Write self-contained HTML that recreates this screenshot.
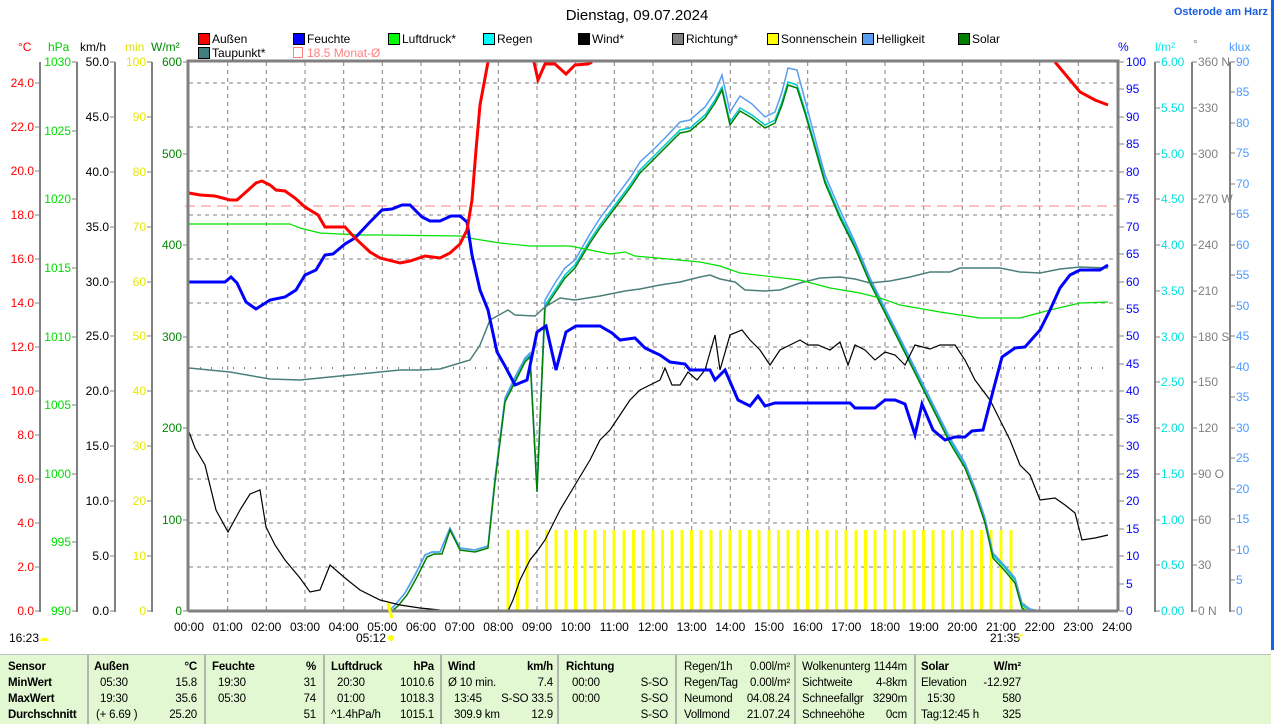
<!DOCTYPE html>
<html><head><meta charset="utf-8"><style>
html,body{margin:0;padding:0;background:#fff;}
svg{display:block;font-family:"Liberation Sans",sans-serif;}
</style></head><body>
<svg width="1274" height="724" viewBox="0 0 1274 724" xmlns="http://www.w3.org/2000/svg">
<rect width="1274" height="724" fill="#fff"/>
<rect x="1271" y="0" width="3" height="650" fill="#1560e8"/>
<text x="637" y="20" font-size="15" text-anchor="middle" fill="#000">Dienstag, 09.07.2024</text>
<text x="1268" y="15" font-size="11" text-anchor="end" fill="#1a5ee0" font-weight="bold">Osterode am Harz</text>

<g font-size="12" fill="#000">
<rect x="198.5" y="33.5" width="11" height="11" fill="#f00" stroke="#000"/><text x="212" y="43">Außen</text>
<rect x="293.5" y="33.5" width="11" height="11" fill="#00f" stroke="#000"/><text x="307" y="43">Feuchte</text>
<rect x="388.5" y="33.5" width="11" height="11" fill="#0f0" stroke="#000"/><text x="402" y="43">Luftdruck*</text>
<rect x="483.5" y="33.5" width="11" height="11" fill="#0ff" stroke="#000"/><text x="497" y="43">Regen</text>
<rect x="578.5" y="33.5" width="11" height="11" fill="#000" stroke="#000"/><text x="592" y="43">Wind*</text>
<rect x="672.5" y="33.5" width="11" height="11" fill="#808080" stroke="#000"/><text x="686" y="43">Richtung*</text>
<rect x="767.5" y="33.5" width="11" height="11" fill="#ff0" stroke="#000"/><text x="781" y="43">Sonnenschein</text>
<rect x="862.5" y="33.5" width="11" height="11" fill="#5a9cf0" stroke="#000"/><text x="876" y="43">Helligkeit</text>
<rect x="958.5" y="33.5" width="11" height="11" fill="#008000" stroke="#000"/><text x="972" y="43">Solar</text>
<rect x="198.5" y="47.5" width="11" height="11" fill="#408080" stroke="#000"/><text x="212" y="57">Taupunkt*</text>
<rect x="293.5" y="47.5" width="9" height="10" fill="none" stroke="#ff8080"/><text x="307" y="57" fill="#ff8080">18.5 Monat-Ø</text>
</g>

<g font-size="12">
<text x="18" y="51" fill="#f00">°C</text>
<text x="48" y="51" fill="#0c0">hPa</text>
<text x="80" y="51" fill="#000">km/h</text>
<text x="125" y="51" fill="#e0e000">min</text>
<text x="151" y="51" fill="#080">W/m²</text>
<text x="1118" y="51" fill="#00f">%</text>
<text x="1155" y="51" fill="#0ee">l/m²</text>
<text x="1193" y="48" fill="#808080">°</text>
<text x="1229" y="51" fill="#4a9aff">klux</text>
</g>

<g stroke="#808080" stroke-width="2">
<line x1="40" y1="62" x2="40" y2="612"/><line x1="77" y1="62" x2="77" y2="612"/>
<line x1="115" y1="62" x2="115" y2="612"/><line x1="152" y1="62" x2="152" y2="612"/>
<line x1="1155" y1="62" x2="1155" y2="612"/><line x1="1192" y1="62" x2="1192" y2="612"/>
<line x1="1230" y1="62" x2="1230" y2="612"/>
</g>
<g stroke="#808080" stroke-width="1">
<path d="M35 611H40M35 567H40M35 523H40M35 479H40M35 435H40M35 391H40M35 347H40M35 303H40M35 259H40M35 215H40M35 171H40M35 127H40M35 83H40"/>
<path d="M72 611H77M72 542H77M72 474H77M72 405H77M72 337H77M72 268H77M72 199H77M72 131H77M72 62H77"/>
<path d="M110 611H115M110 556H115M110 501H115M110 446H115M110 391H115M110 336H115M110 282H115M110 227H115M110 172H115M110 117H115M110 62H115"/>
<path d="M147 611H152M147 556H152M147 501H152M147 446H152M147 391H152M147 336H152M147 282H152M147 227H152M147 172H152M147 117H152M147 62H152"/>
<path d="M183 611H188M183 520H188M183 428H188M183 337H188M183 245H188M183 154H188M183 62H188"/>
<path d="M1119 611H1124M1119 584H1124M1119 556H1124M1119 529H1124M1119 501H1124M1119 474H1124M1119 446H1124M1119 419H1124M1119 391H1124M1119 364H1124M1119 336H1124M1119 309H1124M1119 282H1124M1119 254H1124M1119 227H1124M1119 199H1124M1119 172H1124M1119 144H1124M1119 117H1124M1119 89H1124M1119 62H1124"/>
<path d="M1155 611H1160M1155 565H1160M1155 520H1160M1155 474H1160M1155 428H1160M1155 382H1160M1155 337H1160M1155 291H1160M1155 245H1160M1155 199H1160M1155 154H1160M1155 108H1160M1155 62H1160"/>
<path d="M1192 611H1197M1192 565H1197M1192 520H1197M1192 474H1197M1192 428H1197M1192 382H1197M1192 337H1197M1192 291H1197M1192 245H1197M1192 199H1197M1192 154H1197M1192 108H1197M1192 62H1197"/>
<path d="M1230 611H1235M1230 580H1235M1230 550H1235M1230 519H1235M1230 489H1235M1230 458H1235M1230 428H1235M1230 397H1235M1230 367H1235M1230 336H1235M1230 306H1235M1230 275H1235M1230 245H1235M1230 214H1235M1230 184H1235M1230 153H1235M1230 123H1235M1230 92H1235M1230 62H1235"/>
</g>

<g font-size="12" text-anchor="end" fill="#f00">
<text x="34" y="615">0.0</text><text x="34" y="571">2.0</text><text x="34" y="527">4.0</text><text x="34" y="483">6.0</text><text x="34" y="439">8.0</text><text x="34" y="395">10.0</text><text x="34" y="351">12.0</text><text x="34" y="307">14.0</text><text x="34" y="263">16.0</text><text x="34" y="219">18.0</text><text x="34" y="175">20.0</text><text x="34" y="131">22.0</text><text x="34" y="87">24.0</text>
</g>
<g font-size="12" text-anchor="end" fill="#0d0">
<text x="71" y="615">990</text><text x="71" y="546">995</text><text x="71" y="478">1000</text><text x="71" y="409">1005</text><text x="71" y="341">1010</text><text x="71" y="272">1015</text><text x="71" y="203">1020</text><text x="71" y="135">1025</text><text x="71" y="66">1030</text>
</g>
<g font-size="12" text-anchor="end" fill="#000">
<text x="109" y="615">0.0</text><text x="109" y="560">5.0</text><text x="109" y="505">10.0</text><text x="109" y="450">15.0</text><text x="109" y="395">20.0</text><text x="109" y="340">25.0</text><text x="109" y="286">30.0</text><text x="109" y="231">35.0</text><text x="109" y="176">40.0</text><text x="109" y="121">45.0</text><text x="109" y="66">50.0</text>
</g>
<g font-size="12" text-anchor="end" fill="#e8e800">
<text x="146" y="615">0</text><text x="146" y="560">10</text><text x="146" y="505">20</text><text x="146" y="450">30</text><text x="146" y="395">40</text><text x="146" y="340">50</text><text x="146" y="286">60</text><text x="146" y="231">70</text><text x="146" y="176">80</text><text x="146" y="121">90</text><text x="146" y="66">100</text>
</g>
<g font-size="12" text-anchor="end" fill="#080">
<text x="182" y="615">0</text><text x="182" y="524">100</text><text x="182" y="432">200</text><text x="182" y="341">300</text><text x="182" y="249">400</text><text x="182" y="158">500</text><text x="182" y="66">600</text>
</g>
<g font-size="12" fill="#00f">
<text x="1126" y="615">0</text><text x="1126" y="588">5</text><text x="1126" y="560">10</text><text x="1126" y="533">15</text><text x="1126" y="505">20</text><text x="1126" y="478">25</text><text x="1126" y="450">30</text><text x="1126" y="423">35</text><text x="1126" y="395">40</text><text x="1126" y="368">45</text><text x="1126" y="340">50</text><text x="1126" y="313">55</text><text x="1126" y="286">60</text><text x="1126" y="258">65</text><text x="1126" y="231">70</text><text x="1126" y="203">75</text><text x="1126" y="176">80</text><text x="1126" y="148">85</text><text x="1126" y="121">90</text><text x="1126" y="93">95</text><text x="1126" y="66">100</text>
</g>
<g font-size="12" fill="#00e0e0">
<text x="1161" y="615">0.00</text><text x="1161" y="569">0.50</text><text x="1161" y="524">1.00</text><text x="1161" y="478">1.50</text><text x="1161" y="432">2.00</text><text x="1161" y="386">2.50</text><text x="1161" y="341">3.00</text><text x="1161" y="295">3.50</text><text x="1161" y="249">4.00</text><text x="1161" y="203">4.50</text><text x="1161" y="158">5.00</text><text x="1161" y="112">5.50</text><text x="1161" y="66">6.00</text>
</g>
<g font-size="12" fill="#808080">
<text x="1198" y="615">0 N</text><text x="1198" y="569">30</text><text x="1198" y="524">60</text><text x="1198" y="478">90 O</text><text x="1198" y="432">120</text><text x="1198" y="386">150</text><text x="1198" y="341">180 S</text><text x="1198" y="295">210</text><text x="1198" y="249">240</text><text x="1198" y="203">270 W</text><text x="1198" y="158">300</text><text x="1198" y="112">330</text><text x="1198" y="66">360 N</text>
</g>
<g font-size="12" fill="#4a9aff">
<text x="1236" y="615">0</text><text x="1236" y="584">5</text><text x="1236" y="554">10</text><text x="1236" y="523">15</text><text x="1236" y="493">20</text><text x="1236" y="462">25</text><text x="1236" y="432">30</text><text x="1236" y="401">35</text><text x="1236" y="371">40</text><text x="1236" y="340">45</text><text x="1236" y="310">50</text><text x="1236" y="279">55</text><text x="1236" y="249">60</text><text x="1236" y="218">65</text><text x="1236" y="188">70</text><text x="1236" y="157">75</text><text x="1236" y="127">80</text><text x="1236" y="96">85</text><text x="1236" y="66">90</text>
</g>

<g stroke="#808080" stroke-width="1" stroke-dasharray="4,4">
<path d="M227.7 62V611M266.3 62V611M305 62V611M343.7 62V611M382.3 62V611M421 62V611M459.7 62V611M498.3 62V611M537 62V611M575.7 62V611M614.3 62V611M653 62V611M691.7 62V611M730.3 62V611M769 62V611M807.7 62V611M846.3 62V611M885 62V611M923.7 62V611M962.3 62V611M1001 62V611M1039.7 62V611M1078.3 62V611"/>
<path d="M189 567H1117M189 523H1117M189 479H1117M189 435H1117M189 391H1117M189 347H1117M189 303H1117M189 259H1117M189 215H1117M189 171H1117M189 127H1117M189 83H1117"/>
</g>
<line x1="185" y1="206" x2="1117" y2="206" stroke="#ff8080" stroke-width="1" stroke-dasharray="10,6"/>
<line x1="189" y1="368" x2="1108" y2="368" stroke="#808080" stroke-width="2" stroke-dasharray="1,10"/>

<g stroke="#ff0" stroke-width="3">
<path d="M389 603V611M508 530V611M517.5 530V611M527 530V611M546.5 530V611M556 530V611M566 530V611M575.5 530V611M585 530V611M595 530V611M604.5 530V611M614 530V611M624 530V611M633.5 530V611M643 530V611M653 530V611M662.5 530V611M672 530V611M682 530V611M691.5 530V611M701 530V611M711 530V611M720.5 530V611M730 530V611M740 530V611M749.5 530V611M759 530V611M769 530V611M778.5 530V611M788 530V611M798 530V611M807.5 530V611M817 530V611M827 530V611M836.5 530V611M846 530V611M856 530V611M865.5 530V611M875 530V611M885 530V611M894.5 530V611M904 530V611M914 530V611M923.5 530V611M933 530V611M943 530V611M952.5 530V611M962 530V611M972 530V611M981.5 530V611M991 530V611M1001 530V611M1011 530V611M1024 603V611"/>
</g>

<polyline fill="none" stroke="#00c8c8" stroke-width="1.5" points="389,611 395,605 405,593 415,575 425,555 432,552 440,552 450,528 460,548 475,550 488,546 495,480 505,400 515,380 525,360 530,355 537,490 540,420 545,305 555,290 565,275 575,265 590,240 600,225 615,205 630,185 640,170 655,155 665,145 680,130 690,128 705,115 715,100 722,87 730,122 740,108 752,115 765,125 775,120 782,102 788,82 797,85 805,110 815,145 825,180 840,215 855,245 870,280 890,320 910,360 930,400 950,440 965,465 975,490 985,520 993,555 1005,568 1015,580 1022,605 1030,611"/>
<polyline fill="none" stroke="#5a9cf0" stroke-width="1.5" points="389,611 395,605 405,593 415,575 425,555 432,552 440,552 450,528 460,548 475,550 488,546 495,478 505,398 515,377 525,358 530,353 537,488 540,418 545,300 555,283 565,268 575,260 590,234 600,218 615,198 630,178 640,162 655,148 665,138 680,122 690,120 705,107 715,92 722,75 730,112 740,96 752,104 765,117 775,112 782,92 788,68 797,70 805,100 815,138 825,175 840,210 855,242 870,278 890,318 910,358 930,398 950,438 965,463 975,488 985,518 993,553 1005,566 1015,578 1022,603 1030,609 1040,611"/>
<polyline fill="none" stroke="#008000" stroke-width="1.5" points="392,611 398,606 407,595 417,577 427,557 434,554 442,554 450,530 460,550 475,552 488,548 495,482 505,402 515,382 525,362 530,357 537,492 540,422 545,308 555,293 565,278 575,268 590,243 600,228 615,208 630,188 640,173 655,158 665,148 680,133 690,131 705,118 715,103 722,90 730,125 740,111 752,118 765,128 775,123 782,105 788,85 797,88 805,113 815,148 825,183 840,218 855,248 870,283 890,323 910,363 930,403 950,443 965,468 975,493 985,523 993,558 1005,571 1015,583 1022,608 1026,611"/>
<polyline fill="none" stroke="#4a7f7a" stroke-width="1.5" points="189,368 230,372 270,379 300,380 330,377 350,375 380,372 400,370 420,370 440,369 470,360 480,345 490,320 508,310 515,315 535,316 545,307 560,298 575,300 600,296 625,291 640,289 660,285 680,282 700,277 710,275 720,279 735,282 745,290 765,291 780,290 800,283 820,278 840,277 855,279 870,283 890,281 910,277 930,272 950,272 960,268 1000,268 1020,272 1040,273 1060,269 1080,267 1108,268"/>
<polyline fill="none" stroke="#00e000" stroke-width="1.2" points="189,224 270,224 290,224 300,228 320,233 360,235 380,235 460,236 475,239 500,243 530,246 570,246 580,248 610,254 625,252 635,256 700,262 720,266 740,273 800,280 830,288 860,293 880,298 900,305 940,312 980,318 1020,318 1050,310 1080,303 1108,302"/>
<polyline fill="none" stroke="#000" stroke-width="1.2" points="189,432 195,448 205,465 216,510 228,532 240,510 250,494 260,490 266,527 275,545 285,560 300,578 310,592 320,590 330,565 345,578 360,590 380,600 400,605 420,608 440,610 470,611 508,611 513,600 520,580 530,560 538,550 545,540 550,530 560,510 575,485 590,460 600,440 610,430 620,415 630,400 640,390 650,385 660,380 665,368 672,385 680,385 688,372 697,380 705,370 715,335 720,370 730,335 742,330 750,340 760,350 770,365 780,350 790,345 800,340 808,345 818,345 830,350 840,342 848,365 855,345 865,350 875,360 885,352 895,355 905,365 915,345 930,349 940,345 955,345 965,360 975,380 990,400 1000,420 1010,440 1020,465 1030,475 1040,500 1055,498 1065,505 1075,513 1082,540 1095,538 1108,535"/>
<polyline fill="none" stroke="#00f" stroke-width="3" points="189,282 225,282 231,277 237,283 246,302 256,309 270,300 285,297 296,290 305,275 316,270 325,255 333,254 345,244 355,238 370,222 382,210 392,209 402,205 410,205 422,217 430,221 440,221 451,216 460,216 467,222 472,255 480,290 488,310 497,352 505,366 515,385 527,380 537,332 546,326 556,370 566,332 576,326 600,326 612,333 620,340 635,338 645,348 660,355 670,362 685,364 690,370 710,370 715,380 725,370 738,400 750,406 758,396 765,406 775,403 850,403 855,408 875,408 885,400 895,400 905,404 915,435 922,404 933,430 945,440 955,437 965,437 972,431 983,430 992,395 1002,357 1015,348 1025,347 1040,330 1050,310 1060,288 1070,275 1080,270 1100,270 1108,265"/>
<polyline fill="none" stroke="#f00" stroke-width="3" points="189,193 200,195 215,196 230,200 237,200 246,192 256,183 262,181 270,185 276,190 285,191 295,198 305,207 318,215 325,227 345,227 355,238 370,252 380,258 400,263 410,261 425,256 440,258 450,253 460,244 467,230 472,200 476,150 480,105 488,62"/>
<polyline fill="none" stroke="#f00" stroke-width="3" points="534,62 538,80 545,64 555,64 566,74 575,65 588,64 592,62"/>
<polyline fill="none" stroke="#f00" stroke-width="3" points="1055,62 1080,92 1095,100 1108,105"/>

<path d="M188 611V61H1118V611" fill="none" stroke="#808080" stroke-width="3"/>
<line x1="188" y1="611" x2="1118" y2="611" stroke="#808080" stroke-width="3"/>
<line x1="388" y1="604" x2="392" y2="618" stroke="#ff0" stroke-width="3"/>

<g font-size="12" text-anchor="middle" fill="#000">
<text x="189" y="631">00:00</text><text x="227.7" y="631">01:00</text><text x="266.3" y="631">02:00</text><text x="305" y="631">03:00</text><text x="343.7" y="631">04:00</text><text x="382.3" y="631">05:00</text><text x="421" y="631">06:00</text><text x="459.7" y="631">07:00</text><text x="498.3" y="631">08:00</text><text x="537" y="631">09:00</text><text x="575.7" y="631">10:00</text><text x="614.3" y="631">11:00</text><text x="653" y="631">12:00</text><text x="691.7" y="631">13:00</text><text x="730.3" y="631">14:00</text><text x="769" y="631">15:00</text><text x="807.7" y="631">16:00</text><text x="846.3" y="631">17:00</text><text x="885" y="631">18:00</text><text x="923.7" y="631">19:00</text><text x="962.3" y="631">20:00</text><text x="1001" y="631">21:00</text><text x="1039.7" y="631">22:00</text><text x="1078.3" y="631">23:00</text><text x="1117" y="631">24:00</text>
<text x="24" y="642">16:23</text><text x="371" y="642">05:12</text><text x="1005" y="642">21:35</text>
</g>
<path d="M40 641a4 3 0 0 1 9 0z" fill="#ff0"/>
<circle cx="391" cy="638" r="3" fill="#ff0"/>
<path d="M1019 641a4 4 0 0 1 5 -5a3 4 0 0 0 -5 5z" fill="#ff0"/>

<rect x="0" y="655" width="1271" height="69" fill="#e2f8d2"/>
<line x1="0" y1="654.5" x2="1271" y2="654.5" stroke="#c0c0c0"/>
<g stroke="#a0a0a0" stroke-width="1.5">
<path d="M88 655V724M205 655V724M324 655V724M441 655V724M558 655V724M676 655V724M795 655V724M915 655V724"/>
</g>
<g font-size="11.5" fill="#000" letter-spacing="-0.2">
<g font-weight="bold">
<text x="8" y="670">Sensor</text><text x="8" y="686">MinWert</text><text x="8" y="702">MaxWert</text><text x="8" y="718">Durchschnitt</text>
<text x="94" y="670">Außen</text><text x="197" y="670" text-anchor="end">°C</text>
<text x="212" y="670">Feuchte</text><text x="316" y="670" text-anchor="end">%</text>
<text x="331" y="670">Luftdruck</text><text x="434" y="670" text-anchor="end">hPa</text>
<text x="448" y="670">Wind</text><text x="553" y="670" text-anchor="end">km/h</text>
<text x="566" y="670">Richtung</text>
<text x="921" y="670">Solar</text><text x="1021" y="670" text-anchor="end">W/m²</text>
</g>
<text x="100" y="686">05:30</text><text x="197" y="686" text-anchor="end">15.8</text>
<text x="100" y="702">19:30</text><text x="197" y="702" text-anchor="end">35.6</text>
<text x="96" y="718">(+ 6.69 )</text><text x="197" y="718" text-anchor="end">25.20</text>
<text x="218" y="686">19:30</text><text x="316" y="686" text-anchor="end">31</text>
<text x="218" y="702">05:30</text><text x="316" y="702" text-anchor="end">74</text>
<text x="316" y="718" text-anchor="end">51</text>
<text x="337" y="686">20:30</text><text x="434" y="686" text-anchor="end">1010.6</text>
<text x="337" y="702">01:00</text><text x="434" y="702" text-anchor="end">1018.3</text>
<text x="331" y="718">^1.4hPa/h</text><text x="434" y="718" text-anchor="end">1015.1</text>
<text x="448" y="686">Ø 10 min.</text><text x="553" y="686" text-anchor="end">7.4</text>
<text x="454" y="702">13:45</text><text x="553" y="702" text-anchor="end">S-SO 33.5</text>
<text x="454" y="718">309.9 km</text><text x="553" y="718" text-anchor="end">12.9</text>
<text x="572" y="686">00:00</text><text x="668" y="686" text-anchor="end">S-SO</text>
<text x="572" y="702">00:00</text><text x="668" y="702" text-anchor="end">S-SO</text>
<text x="668" y="718" text-anchor="end">S-SO</text>
<text x="684" y="670">Regen/1h</text><text x="790" y="670" text-anchor="end">0.00l/m²</text>
<text x="684" y="686">Regen/Tag</text><text x="790" y="686" text-anchor="end">0.00l/m²</text>
<text x="684" y="702">Neumond</text><text x="790" y="702" text-anchor="end">04.08.24</text>
<text x="684" y="718">Vollmond</text><text x="790" y="718" text-anchor="end">21.07.24</text>
<text x="802" y="670">Wolkenunterg</text><text x="907" y="670" text-anchor="end">1144m</text>
<text x="802" y="686">Sichtweite</text><text x="907" y="686" text-anchor="end">4-8km</text>
<text x="802" y="702">Schneefallgr</text><text x="907" y="702" text-anchor="end">3290m</text>
<text x="802" y="718">Schneehöhe</text><text x="907" y="718" text-anchor="end">0cm</text>
<text x="921" y="686">Elevation</text><text x="1021" y="686" text-anchor="end">-12.927</text>
<text x="927" y="702">15:30</text><text x="1021" y="702" text-anchor="end">580</text>
<text x="921" y="718">Tag:12:45 h</text><text x="1021" y="718" text-anchor="end">325</text>
</g>
</svg>
</body></html>
